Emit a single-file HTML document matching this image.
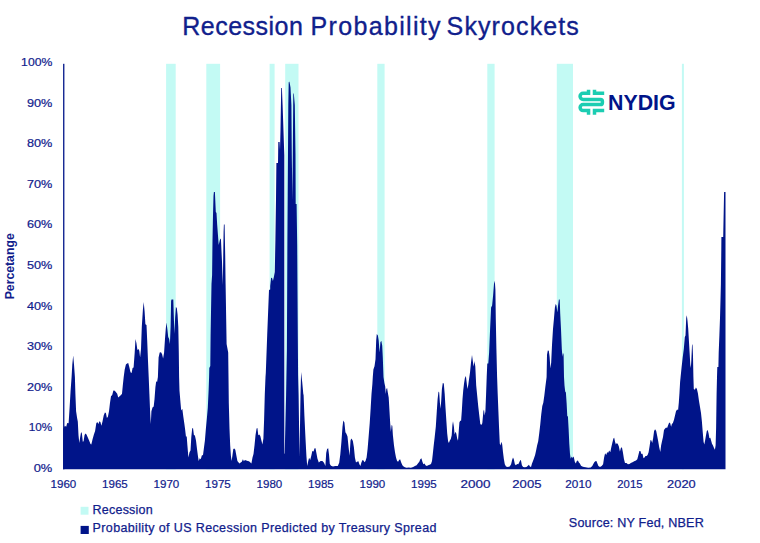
<!DOCTYPE html>
<html><head><meta charset="utf-8"><title>Recession Probability Skyrockets</title>
<style>
html,body{margin:0;padding:0;background:#fff;}
svg{display:block;font-family:"Liberation Sans",sans-serif;}
</style></head><body>
<svg width="760" height="543" viewBox="0 0 760 543">
<rect width="760" height="543" fill="#fff"/>
<g fill="#c3faf4"><rect x="166.1" y="63.8" width="9.6" height="405.5"/><rect x="206.3" y="63.8" width="13.8" height="405.5"/><rect x="269.6" y="63.8" width="5.0" height="405.5"/><rect x="285.2" y="63.8" width="13.3" height="405.5"/><rect x="377.3" y="63.8" width="7.3" height="405.5"/><rect x="487.3" y="63.8" width="7.3" height="405.5"/><rect x="556.8" y="63.8" width="16.2" height="405.5"/><rect x="681.9" y="63.8" width="2.0" height="405.5"/></g>
<path d="M63.1,469.3 L63.1,428.4 L63.4,428.4 L64.8,425.8 L66.2,426.7 L67.2,422.9 L68.6,423.2 L69.6,407.8 L70.6,390.7 L71.6,377.0 L72.3,364.5 L73.2,355.6 L74.0,364.5 L74.9,377.0 L75.4,394.1 L76.1,411.2 L77.1,418.1 L77.8,421.5 L78.5,435.2 L79.3,442.9 L80.2,436.9 L81.1,432.1 L81.9,433.5 L82.8,441.7 L83.6,441.2 L84.5,435.2 L85.3,433.5 L86.5,434.4 L87.7,437.3 L89.1,440.4 L90.5,444.1 L91.3,444.6 L92.5,439.5 L93.9,434.4 L95.1,430.9 L96.3,423.2 L97.3,421.9 L98.4,424.1 L99.4,421.2 L100.4,421.9 L101.4,425.8 L102.5,421.5 L103.7,415.5 L104.9,412.4 L105.9,413.0 L106.9,418.1 L107.9,416.7 L109.0,411.2 L110.0,402.7 L111.0,396.2 L112.2,395.0 L113.4,390.4 L114.8,390.7 L116.2,392.4 L117.2,393.8 L118.2,397.5 L119.6,396.2 L121.0,395.0 L122.0,393.8 L122.8,385.6 L123.7,377.0 L124.7,369.6 L125.9,364.5 L127.1,363.6 L128.2,363.1 L129.3,367.0 L130.5,372.2 L131.6,373.0 L132.6,367.9 L133.6,367.6 L134.7,352.5 L135.5,339.1 L136.4,343.1 L137.4,349.9 L138.4,349.1 L139.3,350.8 L140.1,357.6 L141.0,349.1 L141.8,326.8 L142.9,309.7 L143.7,302.0 L144.6,311.4 L145.4,324.2 L146.5,325.1 L147.2,340.5 L148.0,361.1 L148.7,377.0 L149.4,394.1 L150.1,411.2 L150.8,424.1 L151.4,411.2 L152.5,407.5 L153.7,406.5 L154.5,399.3 L155.4,387.3 L156.2,381.3 L157.1,382.1 L157.9,377.0 L158.6,357.6 L159.7,352.5 L161.0,352.2 L162.1,354.2 L163.1,358.5 L164.1,352.5 L165.0,338.8 L165.8,328.5 L166.5,322.5 L167.4,329.4 L168.2,337.1 L169.1,338.8 L169.9,343.9 L170.6,326.8 L171.1,301.0 L171.5,299.5 L173.3,299.5 L173.8,316.0 L174.4,333.7 L175.1,318.2 L175.9,307.1 L176.8,308.0 L177.6,314.8 L178.3,326.8 L178.8,352.5 L179.1,377.0 L179.5,390.7 L180.5,402.7 L181.2,410.4 L182.3,408.7 L183.3,416.4 L184.4,424.0 L185.0,428.4 L186.0,436.9 L186.7,436.1 L187.4,445.5 L188.4,457.5 L189.5,452.3 L190.5,450.6 L191.3,436.9 L192.2,428.4 L193.0,428.0 L193.9,434.9 L194.9,435.6 L196.0,440.4 L197.0,448.9 L197.8,454.9 L198.7,460.9 L199.7,458.3 L200.8,459.2 L201.8,455.4 L203.0,454.9 L203.8,448.9 L204.9,440.4 L205.9,428.4 L206.9,418.1 L207.8,407.8 L208.6,390.7 L209.1,377.0 L209.3,368.0 L210.3,366.0 L210.6,335.0 L211.5,284.0 L212.1,275.0 L212.5,240.0 L213.0,215.0 L213.5,196.0 L213.9,192.0 L214.9,192.0 L215.8,212.0 L216.5,213.0 L217.2,225.0 L218.7,245.0 L220.0,239.5 L220.9,238.4 L222.0,262.0 L222.8,285.0 L223.6,232.0 L223.9,224.4 L224.6,224.4 L225.2,255.0 L225.6,284.0 L226.6,344.0 L228.2,352.5 L228.5,377.0 L228.8,402.7 L229.5,428.4 L230.2,445.5 L230.9,455.8 L231.6,460.9 L232.4,455.8 L233.3,448.9 L234.3,448.6 L235.3,449.8 L236.4,455.8 L237.4,460.9 L238.4,462.3 L239.5,463.5 L240.7,462.6 L241.8,461.8 L242.9,459.2 L243.9,461.2 L244.9,460.0 L246.3,460.6 L247.7,460.9 L249.0,461.2 L250.4,462.6 L251.4,463.5 L252.5,457.5 L253.5,454.1 L254.5,445.5 L255.5,435.2 L256.6,428.4 L257.4,428.0 L258.3,435.2 L259.3,434.4 L260.3,436.1 L261.4,440.4 L262.4,444.6 L263.4,438.6 L264.1,419.8 L264.8,394.1 L265.5,377.0 L265.8,373.0 L267.2,335.0 L269.0,290.0 L270.2,289.6 L270.2,286.0 L271.1,278.0 L272.0,277.8 L272.9,281.0 L273.9,276.8 L274.8,272.0 L275.4,240.0 L276.0,200.0 L276.4,163.0 L278.0,163.0 L278.3,142.0 L279.6,142.0 L280.0,150.0 L280.5,130.0 L281.2,88.0 L281.9,88.0 L282.6,105.0 L284.3,155.0 L284.3,453.5 L284.7,453.7 L286.1,395.0 L286.9,350.0 L287.2,285.0 L287.4,240.0 L287.7,195.0 L288.0,150.0 L288.3,105.0 L288.7,82.5 L289.1,81.6 L289.6,82.5 L290.5,87.6 L291.4,105.0 L291.8,155.0 L292.4,200.0 L292.8,155.0 L293.2,105.0 L293.3,93.5 L293.8,93.5 L294.8,105.0 L295.5,155.0 L295.7,204.0 L296.6,204.0 L297.2,245.0 L297.5,290.0 L297.8,335.0 L298.1,375.0 L298.6,395.0 L299.5,456.5 L300.5,395.0 L301.1,372.1 L302.2,382.0 L303.3,394.0 L303.6,395.0 L304.4,415.7 L305.4,436.4 L306.4,455.8 L307.2,466.1 L308.2,461.3 L309.1,457.8 L310.2,459.9 L311.3,455.8 L312.3,450.9 L313.5,451.6 L314.6,448.2 L315.5,448.2 L316.4,453.0 L317.4,458.5 L318.8,462.4 L320.6,461.0 L322.4,461.0 L324.0,462.7 L325.4,466.1 L326.2,453.0 L327.1,448.9 L328.2,448.2 L329.0,454.4 L329.8,464.0 L331.0,465.7 L333.0,466.5 L335.1,466.1 L337.8,466.1 L339.2,462.7 L340.3,454.4 L341.4,442.0 L342.5,426.8 L343.3,420.5 L344.4,422.6 L345.4,432.3 L346.4,433.7 L347.5,436.4 L348.6,447.5 L349.6,455.8 L350.5,440.6 L351.3,438.5 L352.4,439.9 L352.9,441.2 L353.9,447.2 L354.9,457.5 L356.0,462.6 L357.0,461.8 L358.4,461.2 L359.4,464.3 L360.4,466.0 L361.4,462.6 L362.5,460.0 L363.5,460.6 L364.5,462.3 L365.5,460.9 L366.6,457.5 L367.6,448.9 L368.6,436.9 L369.7,423.2 L370.7,407.8 L371.5,394.1 L372.4,383.8 L372.8,377.0 L373.4,369.6 L374.5,366.2 L375.5,359.3 L376.2,340.5 L376.8,334.0 L377.9,335.4 L378.7,340.5 L379.6,352.5 L380.4,342.2 L381.3,340.8 L382.2,345.6 L382.8,357.6 L383.5,377.0 L384.4,383.0 L385.2,386.4 L385.8,394.1 L386.3,389.0 L387.1,388.1 L387.8,392.4 L388.7,397.5 L389.5,411.2 L390.2,423.2 L390.9,431.8 L391.6,424.9 L392.3,425.8 L392.9,435.2 L394.0,445.5 L395.0,452.3 L396.0,457.5 L397.1,460.9 L398.1,461.8 L399.1,460.0 L400.1,459.2 L401.2,462.6 L402.4,465.2 L403.6,466.4 L404.9,467.2 L406.6,467.8 L408.7,467.4 L410.9,467.8 L413.2,466.9 L414.9,466.0 L416.6,465.2 L417.9,463.5 L419.3,461.8 L420.3,459.2 L421.4,458.3 L422.4,461.8 L423.4,464.3 L424.5,463.5 L425.5,465.2 L426.8,466.0 L428.2,465.2 L429.6,464.7 L431.0,464.0 L432.0,460.9 L432.8,454.1 L433.7,445.5 L434.7,436.9 L435.8,426.7 L436.8,411.2 L437.6,399.3 L438.5,391.6 L439.2,392.4 L439.9,402.7 L440.5,408.7 L441.2,401.0 L441.9,389.0 L442.8,383.0 L443.8,383.5 L444.7,394.1 L445.5,407.8 L446.4,421.5 L447.2,433.5 L448.1,441.2 L448.9,442.9 L449.8,440.4 L450.8,439.0 L451.7,435.2 L452.4,424.9 L453.0,421.2 L453.9,426.7 L454.6,434.4 L455.4,431.8 L456.3,433.5 L457.2,438.6 L458.0,440.7 L458.7,431.8 L459.4,422.4 L460.2,420.7 L461.1,420.7 L461.8,411.2 L462.5,399.3 L463.2,390.7 L464.0,383.8 L464.9,377.9 L465.9,376.0 L466.6,382.1 L467.4,389.0 L468.3,384.7 L469.1,378.7 L470.0,372.5 L471.0,362.6 L472.0,355.1 L473.0,362.6 L473.7,366.6 L474.5,361.0 L475.3,366.6 L475.8,377.0 L476.2,385.6 L477.2,395.8 L478.2,406.1 L479.2,414.7 L480.3,424.1 L481.3,424.9 L482.3,423.2 L483.4,411.2 L484.0,409.5 L484.7,415.5 L485.4,411.2 L486.1,394.1 L486.7,377.0 L487.3,363.6 L488.3,363.6 L489.1,352.8 L490.1,329.1 L491.1,307.4 L492.1,305.5 L493.1,295.6 L494.0,283.8 L494.8,280.8 L495.4,289.7 L495.8,319.3 L496.4,348.8 L497.1,377.0 L497.7,394.1 L498.4,411.2 L499.1,428.4 L499.8,443.8 L500.5,445.5 L501.3,441.7 L502.2,444.6 L503.0,452.3 L503.9,459.2 L504.8,464.3 L506.0,466.4 L507.7,466.9 L509.7,466.4 L511.1,464.3 L512.1,460.0 L513.0,457.5 L513.8,459.2 L514.9,464.3 L515.9,465.2 L517.1,464.0 L518.3,464.3 L519.3,462.3 L520.3,460.0 L521.0,460.6 L521.9,465.2 L523.1,466.9 L524.8,467.2 L526.5,466.9 L527.9,465.7 L528.9,464.7 L529.9,466.4 L531.0,466.9 L532.0,463.5 L533.0,460.9 L534.0,458.3 L535.1,454.9 L536.1,450.6 L537.1,445.5 L538.2,441.2 L539.2,433.5 L540.2,424.9 L541.2,414.7 L542.3,406.1 L543.3,402.7 L544.3,395.8 L545.3,387.3 L546.4,378.7 L546.6,377.0 L547.0,354.7 L547.8,350.4 L548.8,350.8 L549.6,356.7 L550.4,368.5 L551.2,362.6 L552.0,344.9 L553.0,329.1 L553.9,319.3 L554.9,307.4 L555.7,303.9 L556.5,305.5 L557.3,312.4 L558.1,305.5 L558.9,299.6 L559.7,299.6 L560.2,313.3 L561.0,329.1 L561.8,348.8 L562.4,356.7 L563.0,352.8 L563.6,354.7 L564.0,377.0 L564.5,385.6 L565.2,391.6 L565.9,392.4 L566.6,402.7 L567.3,416.4 L567.9,416.0 L568.6,428.4 L569.3,443.8 L570.0,454.1 L570.7,458.8 L571.4,456.6 L572.2,458.3 L573.1,456.6 L573.9,457.5 L574.8,461.8 L575.8,463.5 L576.8,460.9 L577.9,460.6 L578.9,462.6 L579.9,463.5 L581.0,465.7 L582.3,466.4 L583.9,466.9 L585.6,467.2 L588.2,467.8 L590.7,467.4 L592.3,466.0 L593.3,464.0 L594.3,462.3 L595.3,461.2 L596.4,460.9 L597.4,463.5 L598.4,466.0 L600.0,466.9 L601.7,466.0 L603.1,464.3 L604.1,457.5 L605.1,453.2 L606.2,454.9 L607.2,452.3 L608.2,452.7 L609.2,450.6 L610.3,452.3 L611.3,447.2 L612.3,442.9 L613.4,438.6 L614.2,437.8 L615.1,442.1 L615.9,444.6 L616.8,442.9 L617.8,444.1 L618.8,446.3 L619.9,451.5 L620.9,448.1 L621.9,447.2 L622.9,452.3 L624.0,459.2 L625.0,463.1 L626.5,463.1 L627.9,464.3 L629.5,464.0 L630.8,463.0 L632.5,462.3 L634.2,461.2 L636.0,460.6 L637.3,459.2 L638.4,454.9 L639.4,451.0 L640.4,451.0 L641.4,454.1 L642.5,453.7 L643.5,458.3 L644.5,457.5 L645.5,456.1 L646.6,456.1 L647.6,454.9 L648.6,452.3 L649.7,445.5 L650.5,440.0 L651.4,440.4 L652.2,442.9 L653.1,438.6 L654.1,430.9 L655.1,429.2 L656.2,430.9 L657.2,436.1 L658.2,441.2 L659.2,447.2 L660.3,452.0 L661.1,445.5 L662.0,441.2 L663.0,436.9 L664.0,430.1 L665.1,428.4 L666.1,427.5 L667.1,428.0 L668.2,424.9 L669.2,422.4 L670.2,423.2 L671.1,426.7 L671.9,424.1 L672.9,422.9 L674.0,419.8 L675.0,415.5 L676.0,411.2 L677.1,409.5 L678.1,409.9 L678.8,402.7 L679.5,392.4 L680.1,382.1 L680.6,377.0 L681.7,366.2 L682.7,357.6 L683.8,349.1 L684.8,337.1 L685.5,335.4 L686.2,318.2 L686.8,315.2 L687.5,320.8 L688.2,328.5 L688.9,340.5 L689.6,352.5 L690.3,364.5 L690.8,367.9 L691.3,361.1 L692.0,345.6 L692.5,343.9 L693.0,355.9 L693.4,377.0 L693.8,389.0 L694.9,389.8 L695.9,387.6 L696.9,389.0 L697.9,393.3 L699.0,401.0 L700.0,407.0 L701.0,413.0 L701.9,421.5 L702.7,431.8 L703.6,442.1 L704.3,444.6 L705.1,440.4 L706.0,435.2 L706.8,430.9 L707.7,430.1 L708.6,433.5 L709.4,438.3 L710.3,437.8 L711.1,440.4 L712.0,443.8 L713.0,445.5 L714.0,448.1 L714.9,449.8 L715.6,445.5 L716.1,428.4 L716.6,394.1 L717.0,377.0 L717.3,367.0 L718.4,367.0 L718.7,352.5 L719.4,335.0 L720.0,318.0 L720.5,300.0 L720.9,284.0 L721.3,250.0 L721.4,237.0 L723.2,237.0 L724.1,192.0 L725.5,192.0 L725.5,469.3 Z" fill="#001489"/>
<rect x="63.1" y="63.8" width="1.3" height="405.5" fill="#001489"/>
<g font-size="25" fill="#10208c" stroke="#10208c" stroke-width="0.35"><text x="182.3" y="34.5" textLength="120.6">Recession</text><text x="310.6" y="34.5" textLength="130">Probability</text><text x="446.6" y="34.5" textLength="132.2">Skyrockets</text></g>
<g font-size="11.6" fill="#10208c" stroke="#10208c" stroke-width="0.2"><text x="52.3" y="471.7" text-anchor="end" textLength="18.6" lengthAdjust="spacingAndGlyphs">0%</text><text x="52.3" y="431.1" text-anchor="end" textLength="23.5" lengthAdjust="spacingAndGlyphs">10%</text><text x="52.3" y="390.6" text-anchor="end" textLength="25.4" lengthAdjust="spacingAndGlyphs">20%</text><text x="52.3" y="350.1" text-anchor="end" textLength="25.4" lengthAdjust="spacingAndGlyphs">30%</text><text x="52.3" y="309.5" text-anchor="end" textLength="25.4" lengthAdjust="spacingAndGlyphs">40%</text><text x="52.3" y="268.9" text-anchor="end" textLength="25.4" lengthAdjust="spacingAndGlyphs">50%</text><text x="52.3" y="228.4" text-anchor="end" textLength="25.4" lengthAdjust="spacingAndGlyphs">60%</text><text x="52.3" y="187.9" text-anchor="end" textLength="25.4" lengthAdjust="spacingAndGlyphs">70%</text><text x="52.3" y="147.3" text-anchor="end" textLength="25.4" lengthAdjust="spacingAndGlyphs">80%</text><text x="52.3" y="106.8" text-anchor="end" textLength="25.4" lengthAdjust="spacingAndGlyphs">90%</text><text x="52.3" y="66.2" text-anchor="end" textLength="31.2" lengthAdjust="spacingAndGlyphs">100%</text></g>
<g font-size="11.8" fill="#10208c" stroke="#10208c" stroke-width="0.2"><text x="63.4" y="488.3" text-anchor="middle" textLength="25.8" lengthAdjust="spacingAndGlyphs">1960</text><text x="114.9" y="488.3" text-anchor="middle" textLength="25.8" lengthAdjust="spacingAndGlyphs">1965</text><text x="166.4" y="488.3" text-anchor="middle" textLength="25.8" lengthAdjust="spacingAndGlyphs">1970</text><text x="217.9" y="488.3" text-anchor="middle" textLength="25.8" lengthAdjust="spacingAndGlyphs">1975</text><text x="269.4" y="488.3" text-anchor="middle" textLength="25.8" lengthAdjust="spacingAndGlyphs">1980</text><text x="320.9" y="488.3" text-anchor="middle" textLength="25.8" lengthAdjust="spacingAndGlyphs">1985</text><text x="372.4" y="488.3" text-anchor="middle" textLength="25.8" lengthAdjust="spacingAndGlyphs">1990</text><text x="423.9" y="488.3" text-anchor="middle" textLength="25.8" lengthAdjust="spacingAndGlyphs">1995</text><text x="475.4" y="488.3" text-anchor="middle" textLength="30.0" lengthAdjust="spacingAndGlyphs">2000</text><text x="526.9" y="488.3" text-anchor="middle" textLength="29.1" lengthAdjust="spacingAndGlyphs">2005</text><text x="578.4" y="488.3" text-anchor="middle" textLength="26.2" lengthAdjust="spacingAndGlyphs">2010</text><text x="629.9" y="488.3" text-anchor="middle" textLength="25.1" lengthAdjust="spacingAndGlyphs">2015</text><text x="681.4" y="488.3" text-anchor="middle" textLength="28.6" lengthAdjust="spacingAndGlyphs">2020</text></g>
<text transform="translate(13.9,266.3) rotate(-90)" text-anchor="middle" font-size="13.3" font-weight="bold" fill="#10208c" textLength="66" lengthAdjust="spacingAndGlyphs">Percetange</text>
<rect x="80.6" y="506.8" width="7.9" height="7.9" fill="#c3faf4"/>
<rect x="80.6" y="525.9" width="8.2" height="8.1" fill="#001489"/>
<text x="92.6" y="513.9" font-size="12.5" fill="#10208c" stroke="#10208c" stroke-width="0.25" textLength="60.1">Recession</text>
<text x="92.6" y="531.8" font-size="12.5" fill="#10208c" stroke="#10208c" stroke-width="0.25" textLength="343.8">Probability of US Recession Predicted by Treasury Spread</text>
<text x="568.8" y="527.1" font-size="12.6" fill="#10208c" stroke="#10208c" stroke-width="0.25" textLength="135">Source: NY Fed, NBER</text>
<g fill="none" stroke="#1ccdb2" stroke-width="3.5">
<path d="M588.55,89.7 V93.3 H583.1 A3.05,3.05 0 0 0 583.1,99.4 H600.5 A1.9,1.9 0 0 1 602.4,101.3 V102.7 A1.9,1.9 0 0 1 600.5,104.6 H583.1 A3,3 0 0 0 583.1,110.6 H588.55 V114.8"/>
<path d="M594.5,89.7 V93.3 H604.2"/>
<path d="M594.5,114.8 V110.6 H604.2"/>
</g>
<text x="608.0" y="109.6" font-size="21.3" font-weight="bold" fill="#001489" textLength="67.6" lengthAdjust="spacingAndGlyphs">NYDIG</text>
</svg>
</body></html>
